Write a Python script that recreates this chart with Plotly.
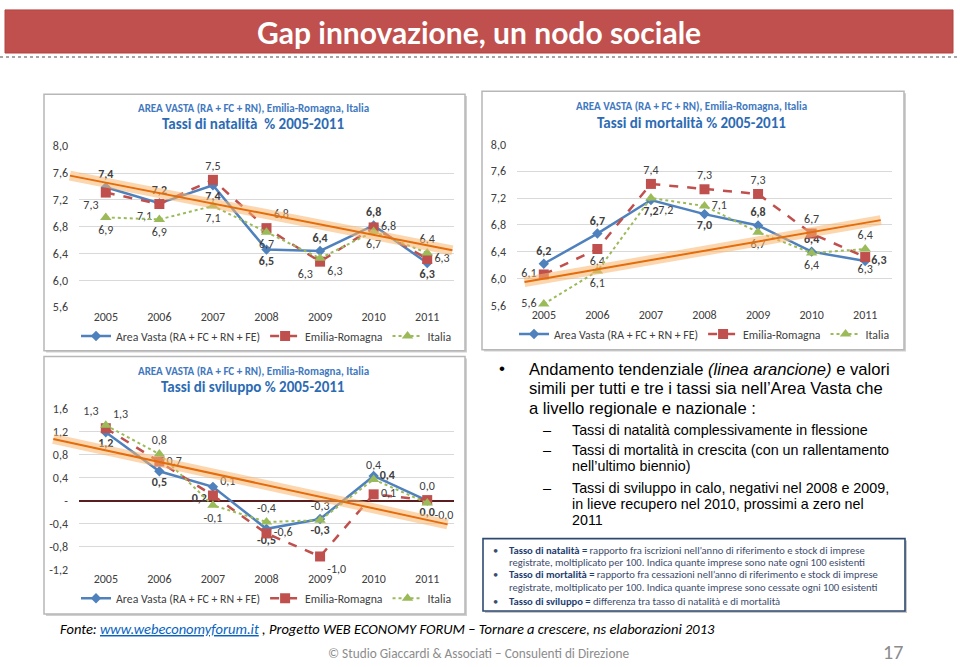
import plotly.graph_objects as go

# ---------------- data ----------------
years = ["2005", "2006", "2007", "2008", "2009", "2010", "2011"]
series_names = ["Area Vasta (RA + FC + RN + FE)", "Emilia-Romagna", "Italia"]

nat_av = [7.39, 7.15, 7.42, 6.46, 6.44, 6.82, 6.26]
nat_er = [7.31, 7.14, 7.50, 6.78, 6.28, 6.79, 6.32]
nat_it = [6.94, 6.91, 7.11, 6.72, 6.33, 6.73, 6.41]

mor_av = [6.22, 6.67, 7.17, 6.96, 6.79, 6.40, 6.26]
mor_er = [6.06, 6.44, 7.41, 7.33, 7.26, 6.67, 6.32]
mor_it = [5.62, 6.11, 7.20, 7.08, 6.69, 6.38, 6.44]

svi_av = [1.19, 0.51, 0.24, -0.49, -0.32, 0.43, 0.00]
svi_er = [1.26, 0.68, 0.09, -0.57, -0.97, 0.11, 0.01]
svi_it = [1.31, 0.81, -0.08, -0.37, -0.34, 0.37, -0.04]

# orange trend lines (start / end, in category index units)
nat_trend_x = [-0.67, 6.47]
nat_trend_y = [7.56, 6.45]
mor_trend_x = [-0.36, 6.29]
mor_trend_y = [5.95, 6.87]
svi_trend_x = [-0.98, 6.38]
svi_trend_y = [1.07, -0.41]

rate_ticks = [5.6, 6.0, 6.4, 6.8, 7.2, 7.6, 8.0]
svi_ticks = [-1.2, -0.8, -0.4, 0.0, 0.4, 0.8, 1.2, 1.6]
svi_ticktext = ["-1,2", "-0,8", "-0,4", "-", "0,4", "0,8", "1,2", "1,6"]

titles_top = "AREA VASTA (RA + FC + RN), Emilia-Romagna, Italia"
titles = ["Tassi di natalità  % 2005-2011", "Tassi di mortalità % 2005-2011", "Tassi di sviluppo % 2005-2011"]

# label placement
nat_pos = [
    ["top center", "top center", "bottom center", "bottom center", "top center", "top center", "bottom center"],
    ["bottom left", "bottom left", "top center", "top right", "bottom left", "middle right", "middle right"],
    ["bottom center", "bottom center", "bottom center", "bottom center", "bottom right", "bottom center", "top center"],
]
mor_pos = [
    ["top center", "top center", "bottom center", "bottom center", "top center", "top center", "middle right"],
    ["middle left", "bottom center", "top center", "top center", "top center", "top center", "bottom center"],
    ["middle left", "bottom center", "bottom right", "middle right", "bottom center", "bottom center", "top center"],
]
svi_pos = [
    ["bottom center", "bottom center", "bottom left", "bottom center", "bottom center", "middle right", "bottom center"],
    ["top right", "middle right", "top right", "middle right", "bottom right", "middle right", "top center"],
    ["top left", "top center", "bottom center", "top center", "top center", "top center", "bottom right"],
]

# ---------------- layout helpers ----------------
W, H = 960, 667
def px(x): return x / W
def py(y): return 1 - y / H

BLUE, RED, GREEN, ORANGE = "#4F81BD", "#C0504D", "#9BBB59", "#E46C0A"
TXT = "#404040"
FONT = "Carlito, Lato, sans-serif"
ARIAL = "Liberation Sans Narrow, Arial Narrow, Liberation Sans, Arial, sans-serif"

def fmt(v):
    return f"{v:.1f}".replace(".", ",")

charts = [
    dict(data=[nat_av, nat_er, nat_it], pos=nat_pos, trend=(nat_trend_x, nat_trend_y),
         dx=(79, 454), dy=(142, 307), box=(44, 89, 465, 351), yr=(5.6, 8.0),
         ticks=rate_ticks, ticktext=[fmt(t) for t in rate_ticks], title=titles[0],
         tcx=253, ty=(104, 120), leg=(76, 336)),
    dict(data=[mor_av, mor_er, mor_it], pos=mor_pos, trend=(mor_trend_x, mor_trend_y),
         dx=(517, 892), dy=(140, 305), box=(482, 86, 904, 350), yr=(5.6, 8.0),
         ticks=rate_ticks, ticktext=[fmt(t) for t in rate_ticks], title=titles[1],
         tcx=691, ty=(102, 118), leg=(514, 334)),
    dict(data=[svi_av, svi_er, svi_it], pos=svi_pos, trend=(svi_trend_x, svi_trend_y),
         dx=(79, 454), dy=(410, 575), box=(44, 357, 465, 620), yr=(-1.2, 1.6),
         ticks=svi_ticks, ticktext=svi_ticktext, title=titles[2],
         tcx=253, ty=(372, 388), leg=(76, 604)),
]

fig = go.Figure()
shapes = []
annotations = []

# banner
shapes.append(dict(type="rect", xref="paper", yref="paper", x0=px(5), x1=px(953), y0=py(47), y1=py(3),
                   fillcolor="#C0504D", line=dict(color="#B5433F", width=1), layer="below"))
shapes.append(dict(type="line", xref="paper", yref="paper", x0=0, x1=1, y0=py(51), y1=py(51),
                   line=dict(color="#A6A6A6", width=2, dash="dot"), layer="below"))
annotations.append(dict(text="<b>Gap innovazione, un nodo sociale</b>", x=px(479), y=py(26), xref="paper", yref="paper",
                        showarrow=False, font=dict(family="Lato, sans-serif", size=30, color="white"),
                        xanchor="center", yanchor="middle"))

styles = [
    dict(color=BLUE, dash="solid", width=2.5, symbol="diamond", size=8),
    dict(color=RED, dash="dash", width=2.5, symbol="square", size=10),
    dict(color=GREEN, dash="dot", width=2, symbol="triangle-up", size=10),
]

layout_axes = {}
for i, c in enumerate(charts):
    n = i + 1
    xa = "x" if n == 1 else f"x{n}"
    ya = "y" if n == 1 else f"y{n}"
    leg = "legend" if n == 1 else f"legend{n}"
    # box + shadow
    x0, y0, x1, y1 = c["box"]
    shapes.append(dict(type="rect", xref="paper", yref="paper", x0=px(x0 + 2), x1=px(x1 + 2), y0=py(y1 + 2), y1=py(y0 + 2),
                       fillcolor="#D0D0D0", line=dict(width=0), layer="below"))
    shapes.append(dict(type="rect", xref="paper", yref="paper", x0=px(x0), x1=px(x1), y0=py(y1), y1=py(y0),
                       fillcolor="white", line=dict(color="#B7B7B7", width=1.5), layer="below"))
    for s, (vals, st, name) in enumerate(zip(c["data"], styles, series_names)):
        txt = [fmt(v) for v in vals]
        if s == 0:
            txt = [f"<b>{t}</b>" for t in txt]
        fig.add_trace(go.Scatter(
            x=years, y=vals, name=name, mode="lines+markers+text",
            line=dict(color=st["color"], dash=st["dash"], width=st["width"]),
            marker=dict(symbol=st["symbol"], size=st["size"], color=st["color"]),
            text=txt, textposition=c["pos"][s],
            textfont=dict(family=FONT, size=12, color=TXT),
            xaxis=xa, yaxis=ya, legend=leg, cliponaxis=False))
    # axes
    sx = (c["dx"][1] - c["dx"][0]) / 7.0
    ylo, yhi = c["yr"]
    sy = (c["dy"][1] - c["dy"][0]) / (yhi - ylo)
    layout_axes[("xaxis" if n == 1 else f"xaxis{n}")] = dict(
        domain=[px(c["dx"][0]), px(c["dx"][1])], anchor=ya, type="category", range=[-0.5, 6.5],
        showgrid=False, zeroline=False, showline=False, ticks="",
        tickfont=dict(family=FONT, size=12, color=TXT), fixedrange=True)
    layout_axes[("yaxis" if n == 1 else f"yaxis{n}")] = dict(
        domain=[py(c["dy"][1]), py(c["dy"][0])], anchor=xa, range=[ylo - 0.004, yhi + 0.004],
        tickvals=c["ticks"], ticktext=c["ticktext"], showgrid=True, gridcolor="#D9D9D9", gridwidth=1,
        zeroline=(n == 3), zerolinecolor="#5A1E1E", zerolinewidth=2.2, showline=False, ticks="",
        ticklabelstandoff=10, tickfont=dict(family=FONT, size=12, color=TXT), fixedrange=True)
    # overlay axes for trend line (covering whole chart box so the line can overshoot the plot area)
    m = n + 3
    bx0, by0, bx1, by1 = x0 + 1, y0 + 1, x1 - 1, y1 - 1
    layout_axes[f"xaxis{m}"] = dict(
        domain=[px(bx0), px(bx1)], anchor=f"y{m}", visible=False, fixedrange=True,
        range=[-0.5 - (c["dx"][0] - bx0) / sx, 6.5 + (bx1 - c["dx"][1]) / sx])
    layout_axes[f"yaxis{m}"] = dict(
        domain=[py(by1), py(by0)], anchor=f"x{m}", visible=False, fixedrange=True,
        range=[ylo - (by1 - c["dy"][1]) / sy, yhi + (c["dy"][0] - by0) / sy])
    tx, ty = c["trend"]
    fig.add_trace(go.Scatter(x=tx, y=ty, mode="lines", line=dict(color="rgba(250,180,110,0.55)", width=10),
                             showlegend=False, hoverinfo="skip", xaxis=f"x{m}", yaxis=f"y{m}"))
    fig.add_trace(go.Scatter(x=tx, y=ty, mode="lines", line=dict(color=ORANGE, width=2),
                             showlegend=False, hoverinfo="skip", xaxis=f"x{m}", yaxis=f"y{m}"))
    # titles
    annotations.append(dict(text=f"<b>{titles_top}</b>", x=px(c["tcx"]), y=py(c["ty"][0]), xref="paper", yref="paper",
                            showarrow=False, font=dict(family=FONT, size=11, color="#3F78C0"),
                            xanchor="center", yanchor="middle"))
    annotations.append(dict(text=f"<b>{c['title']}</b>", x=px(c["tcx"]), y=py(c["ty"][1]), xref="paper", yref="paper",
                            showarrow=False, font=dict(family=FONT, size=15, color="#2C6BB3"),
                            xanchor="center", yanchor="middle"))
    layout_axes[leg] = dict(orientation="h", x=px(c["leg"][0]), y=py(c["leg"][1]), xanchor="left", yanchor="middle",
                            bgcolor="rgba(0,0,0,0)", font=dict(family=FONT, size=11.8, color=TXT),
                            itemwidth=30, tracegroupgap=0)

# right text block
main_lines = [
    (370, "Andamento tendenziale <i>(linea arancione)</i> e valori"),
    (390, "simili per tutti e tre i tassi sia nell’Area Vasta che"),
    (410, "a livello regionale e nazionale :"),
]
sub_lines = [
    (432, "Tassi di natalità complessivamente in flessione", True),
    (452, "Tassi di mortalità in crescita (con un rallentamento", True),
    (469, "nell’ultimo biennio)", False),
    (491, "Tassi di sviluppo in calo, negativi nel 2008 e 2009,", True),
    (508, "in lieve recupero nel 2010, prossimi a zero nel", False),
    (524, "2011", False),
]
annotations.append(dict(text="•", x=px(497), y=py(369), xref="paper", yref="paper", showarrow=False,
                        font=dict(family=ARIAL, size=17, color="black"), xanchor="left", yanchor="middle"))
for yy, t in main_lines:
    annotations.append(dict(text=t, x=px(527), y=py(yy), xref="paper", yref="paper", showarrow=False,
                            font=dict(family=ARIAL, size=16.6, color="black"), xanchor="left", yanchor="middle"))
for yy, t, dash in sub_lines:
    if dash:
        annotations.append(dict(text="–", x=px(541), y=py(yy), xref="paper", yref="paper", showarrow=False,
                                font=dict(family=ARIAL, size=14.5, color="black"), xanchor="left", yanchor="middle"))
    annotations.append(dict(text=t, x=px(570), y=py(yy), xref="paper", yref="paper", showarrow=False,
                            font=dict(family=ARIAL, size=14.3, color="black"), xanchor="left", yanchor="middle"))

# definitions box
shapes.append(dict(type="rect", xref="paper", yref="paper", x0=px(485), x1=px(907), y0=py(619), y1=py(545),
                   fillcolor="#C8C8C8", line=dict(width=0), layer="below"))
shapes.append(dict(type="rect", xref="paper", yref="paper", x0=px(483), x1=px(905), y0=py(617), y1=py(543),
                   fillcolor="white", line=dict(color="#2F4A70", width=1.6), layer="below"))
DB = "#1F3F73"
NB = "#3C4C6C"
def_lines = [
    (555, True, "Tasso di natalità =", " rapporto fra iscrizioni nell’anno di riferimento e stock di imprese"),
    (567, False, "", "registrate, moltiplicato per 100. Indica quante imprese sono nate ogni 100 esistenti"),
    (580, True, "Tasso di mortalità =", " rapporto fra cessazioni nell’anno di riferimento e stock di imprese"),
    (593, False, "", "registrate, moltiplicato per 100. Indica quante imprese sono cessate ogni 100 esistenti"),
    (607, True, "Tasso di sviluppo =", " differenza tra tasso di natalità e di mortalità"),
]
for yy, bullet, b, t in def_lines:
    if bullet:
        annotations.append(dict(text="•", x=px(491), y=py(yy), xref="paper", yref="paper", showarrow=False,
                                font=dict(family=FONT, size=10.5, color=NB), xanchor="left", yanchor="middle"))
    txt = (f"<b><span style='color:{DB}'>{b}</span></b>" if b else "") + t
    annotations.append(dict(text=txt, x=px(507), y=py(yy), xref="paper", yref="paper", showarrow=False,
                            font=dict(family=FONT, size=10.6, color=NB), xanchor="left", yanchor="middle"))

# footer
annotations.append(dict(
    text="<i>Fonte: <span style='color:#0563C1;text-decoration:underline'>www.webeconomyforum.it</span> , "
         "Progetto WEB ECONOMY FORUM – Tornare a crescere, ns elaborazioni 2013</i>",
    x=px(58), y=py(635), xref="paper", yref="paper", showarrow=False,
    font=dict(family=FONT, size=14.5, color="black"), xanchor="left", yanchor="middle"))
annotations.append(dict(text="© Studio Giaccardi & Associati – Consulenti di Direzione", x=px(478), y=py(660),
                        xref="paper", yref="paper", showarrow=False,
                        font=dict(family=FONT, size=13.3, color="#8C8C8C"), xanchor="center", yanchor="middle"))
annotations.append(dict(text="17", x=px(893), y=py(659), xref="paper", yref="paper", showarrow=False,
                        font=dict(family=FONT, size=20, color="#8C8C8C"), xanchor="center", yanchor="middle"))

fig.update_layout(
    width=W, height=H, margin=dict(l=0, r=0, t=0, b=0),
    paper_bgcolor="white", plot_bgcolor="rgba(0,0,0,0)",
    separators=",.", shapes=shapes, annotations=annotations, hovermode=False,
    **layout_axes)

fig.write_html("out.html", config={"displayModeBar": False},
               post_script="document.body.style.margin='0px';")
